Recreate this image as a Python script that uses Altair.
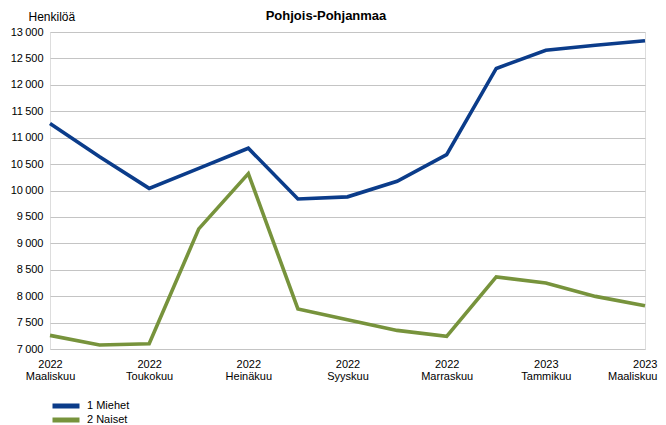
import altair as alt
import pandas as pd

months = ["2022 Maaliskuu", "2022 Huhtikuu", "2022 Toukokuu", "2022 Kesäkuu",
          "2022 Heinäkuu", "2022 Elokuu", "2022 Syyskuu", "2022 Lokakuu",
          "2022 Marraskuu", "2022 Joulukuu", "2023 Tammikuu", "2023 Helmikuu",
          "2023 Maaliskuu"]
miehet = [11270, 10640, 10040, 10420, 10800, 9840, 9880, 10175, 10680, 12310, 12655, 12750, 12835]
naiset = [7258, 7076, 7100, 9273, 10320, 7758, 7555, 7352, 7239, 8364, 8250, 7996, 7820]
series = ["1 Miehet", "2 Naiset"]
colors = ["#0b3c8a", "#77933c"]
title_text = "Pohjois-Pohjanmaa"
y_title = "Henkilöä"
y_ticks = list(range(7000, 13001, 500))
x_ticks = months[::2]

df = pd.DataFrame({
    "kuukausi": months * 2,
    "sarja": [series[0]] * len(months) + [series[1]] * len(months),
    "arvo": miehet + naiset,
})

FONT = "Liberation Sans"
last_test = "datum.value == '%s'" % months[-1]

lines = alt.Chart(df).mark_line(strokeWidth=3.6).encode(
    x=alt.X("kuukausi:O", sort=months,
            scale=alt.Scale(type="point", padding=0),
            axis=alt.Axis(values=x_ticks, labelExpr="split(datum.label, ' ')",
                          labelAngle=0, domain=False, ticks=False, grid=False,
                          labelAlign=alt.condition(last_test, alt.value("right"), alt.value("center")),
                          labelOffset=alt.condition(last_test, alt.value(12), alt.value(0)),
                          labelPadding=9, labelLineHeight=12, labelFontSize=11,
                          labelColor="#000000", labelFont=FONT, title=None)),
    y=alt.Y("arvo:Q",
            scale=alt.Scale(domain=[7000, 13000], nice=False, zero=False),
            axis=alt.Axis(values=y_ticks,
                          labelExpr="replace(format(datum.value, ','), ',', '\u2009')",
                          domain=False, ticks=False, grid=True,
                          gridColor="#c4c4c4", gridWidth=1.2,
                          labelPadding=7, labelFontSize=11, labelColor="#000000",
                          labelFont=FONT,
                          title=y_title, titleAngle=0, titleAlign="left",
                          titleBaseline="middle", titleX=-22, titleY=-16,
                          titleFontSize=12, titleFontWeight="normal",
                          titleColor="#000000", titleFont=FONT)),
    color=alt.Color("sarja:N",
                    scale=alt.Scale(domain=series, range=colors),
                    legend=alt.Legend(orient="none", legendX=0, legendY=367.5,
                                      title=None, symbolType="stroke",
                                      symbolSize=729, symbolStrokeWidth=5,
                                      clipHeight=13,
                                      labelFontSize=11, labelFont=FONT,
                                      labelColor="#000000", labelOffset=5,
                                      rowPadding=1)),
)

title = alt.Chart(pd.DataFrame({"t": [title_text]})).mark_text(
    fontWeight="bold", fontSize=13, align="center", baseline="alphabetic",
    font=FONT, color="#000000"
).encode(text="t:N", x=alt.value(276), y=alt.value(-12))

chart = alt.layer(lines, title).properties(
    width=595, height=317,
    padding={"left": 42, "top": 24, "right": 13, "bottom": 76},
    autosize=alt.AutoSizeParams(type="none"),
).configure_view(stroke=None).configure(font=FONT)

chart.save("out.html", embed_options={"renderer": "svg", "actions": False})
